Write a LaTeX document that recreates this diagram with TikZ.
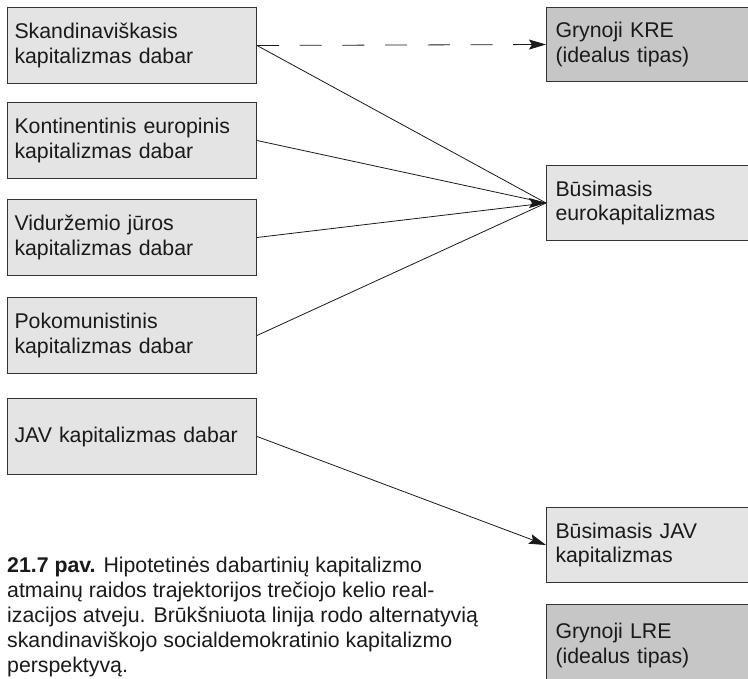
\documentclass[tikz,border=0pt]{standalone}
\usepackage{fontspec}
\setmainfont{Liberation Sans}
\usetikzlibrary{arrows.meta}
\definecolor{lightbox}{HTML}{E4E4E4}
\definecolor{darkbox}{HTML}{C6C6C6}
\definecolor{edge}{HTML}{333333}
\definecolor{ink}{HTML}{1A1A1A}
\begin{document}
\begin{tikzpicture}[x=1pt,y=-1pt,
  boxbase/.style={draw=edge, line width=1pt, anchor=north west, inner ysep=0pt,
    align=left, font=\fontsize{21.3}{24.7}\selectfont, text=ink},
  lbox/.style={boxbase, fill=lightbox, minimum width=249pt, minimum height=76pt,
    text width=235pt, inner xsep=7pt},
  rbox/.style={boxbase, fill=lightbox, minimum width=230pt, minimum height=75pt,
    text width=212pt, inner xsep=9pt},
  dbox/.style={rbox, fill=darkbox},
  conn/.style={draw=ink, line width=0.8pt},
  head/.style={-{Stealth[length=17pt,width=10pt,inset=3pt]}},
  dashline/.style={dash pattern=on 22pt off 20.7pt}
]
\useasboundingbox (0,0) rectangle (748,679);
\clip (0,0) rectangle (748,679);
\fill[white] (0,0) rectangle (748,679);

\node[lbox] (s) at (7,7) {Skandinaviškasis\\kapitalizmas dabar};
\node[lbox] (k) at (7,102) {Kontinentinis europinis\\kapitalizmas dabar};
\node[lbox] (v) at (7,199) {Viduržemio jūros\\kapitalizmas dabar};
\node[lbox] (p) at (7,297) {Pokomunistinis\\kapitalizmas dabar};
\node[lbox] (j) at (7,398) {JAV kapitalizmas dabar};

\node[dbox, minimum height=74pt] (kre) at (546,7) {Grynoji KRE\\(idealus tipas)};
\node[rbox] (eur) at (546,165) {Būsimasis\\eurokapitalizmas};
\node[rbox] (jf) at (546,507) {Būsimasis JAV\\kapitalizmas};
\node[dbox, minimum height=82pt] (lre) at (546,604) {Grynoji LRE\\(idealus tipas)};

\draw[conn, dashline, head] (s.east) -- (kre.west);
\draw[conn] (s.east) -- (eur.west);
\draw[conn] (k.east) -- (eur.west);
\draw[conn] (v.east) -- (eur.west);
\draw[conn] (p.east) -- (eur.west);
\draw[conn, head] ([xshift=-1pt]eur.west) -- (eur.west);
\draw[conn, head] (j.east) -- (jf.west);

\node[anchor=north west, inner sep=0pt, align=left, text=ink,
  font=\fontsize{21.3}{25}\selectfont] (cap) at (7,557)
  {\textbf{21.7 pav.} Hipotetinės dabartinių kapitalizmo\\
   atmainų raidos trajektorijos trečiojo kelio real-\\
   izacijos atveju. Brūkšniuota linija rodo alternatyvią\\
   skandinaviškojo socialdemokratinio kapitalizmo\\
   perspektyvą.};
\end{tikzpicture}
\end{document}
